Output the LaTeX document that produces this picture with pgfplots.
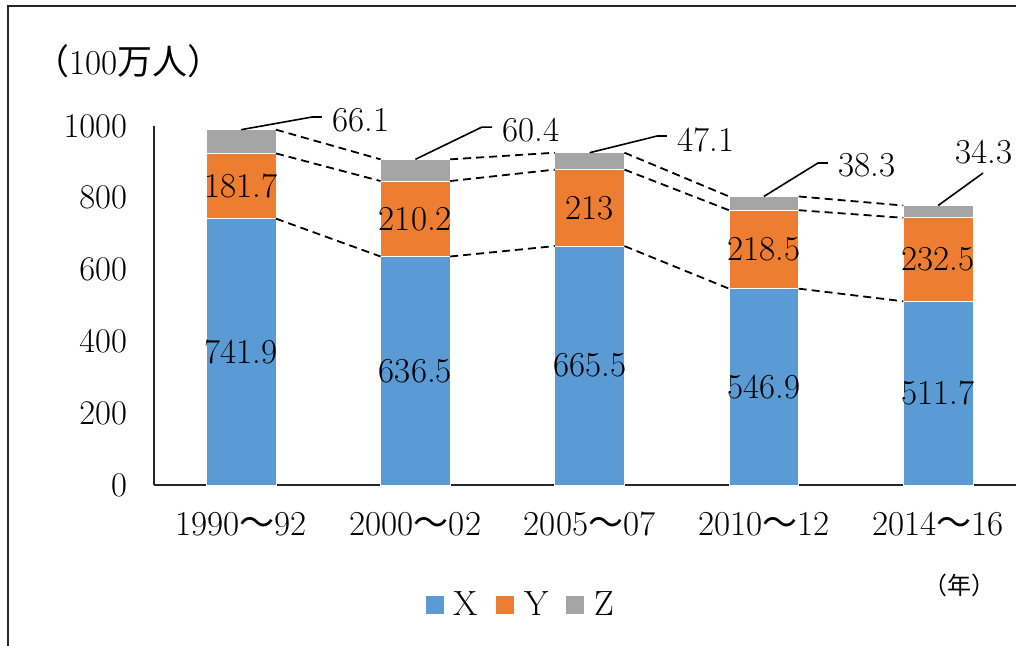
\documentclass[border=0pt]{standalone}
\usepackage{pgfplots}
\pgfplotsset{compat=1.18}
\usepackage{fontspec}
\newfontfamily\cjk{Noto Sans CJK JP}
\definecolor{cX}{HTML}{5B9BD5}
\definecolor{cY}{HTML}{ED7D31}
\definecolor{cZ}{HTML}{A5A5A5}
\begin{document}
\begin{tikzpicture}
\useasboundingbox (0,0) rectangle (508pt,323pt);
\draw[line width=1pt,black!85] (3.8pt,-5pt) -- (3.8pt,320pt) -- (515pt,320pt);
\node[anchor=west,font=\fontsize{17.5}{20}\selectfont,inner sep=0pt] at (17pt,292.5pt) {{\cjk （}100{\cjk 万人）}};
\node[font=\fontsize{12}{14}\selectfont,inner sep=0pt] at (479.5pt,30.5pt) {\cjk （年）};
\begin{axis}[
  at={(77pt,80.5pt)}, anchor=south west,
  scale only axis, width=431pt, height=179.5pt,
  xmin=-0.5, xmax=4.447, ymin=0, ymax=1000,
  ybar stacked, bar width=0.4,
  axis x line*=bottom, axis y line*=left,
  axis line style={line width=0.9pt, black!85, -},
  ytick={0,200,...,1000}, xtick={0,1,2,3,4},
  yticklabel style={/pgf/number format/1000 sep={}},
  xticklabels={1990{\cjk ～}92,2000{\cjk ～}02,2005{\cjk ～}07,2010{\cjk ～}12,2014{\cjk ～}16},
  major tick length=0pt,
  tick label style={font=\fontsize{17.5}{20}\selectfont},
  yticklabel style={xshift=-10pt},
  xticklabel style={yshift=-10pt},
  clip=false,
  legend columns=3,
  legend style={at={(0.427,-0.334)}, anchor=center, draw=none, fill=none,
    font=\fontsize{17.5}{20}\selectfont, inner sep=0pt,
    /tikz/every odd column/.append style={column sep=3pt},
    /tikz/every even column/.append style={column sep=7pt}},
  legend image code/.code={\fill[#1,draw=none] (0pt,-4.5pt) rectangle (9pt,4.5pt);},
]
\addplot[fill=cX, draw=white, line width=0.4pt] coordinates {(0,741.9) (1,636.5) (2,665.5) (3,546.9) (4,511.7)};
\addplot[fill=cY, draw=white, line width=0.4pt] coordinates {(0,181.7) (1,210.2) (2,213) (3,218.5) (4,232.5)};
\addplot[fill=cZ, draw=white, line width=0.4pt] coordinates {(0,66.1) (1,60.4) (2,47.1) (3,38.3) (4,34.3)};
\legend{X,Y,Z}
\end{axis}
\begin{axis}[
  at={(77pt,80.5pt)}, anchor=south west,
  scale only axis, width=431pt, height=179.5pt,
  xmin=-0.5, xmax=4.447, ymin=0, ymax=1000,
  hide axis, clip=false, unbounded coords=jump,
]
\addplot[black, line width=0.9pt, dash pattern=on 4pt off 2.5pt, mark=none] coordinates {(0.2,741.9) (0.8,636.5) (1,nan) (1.2,636.5) (1.8,665.5) (2,nan) (2.2,665.5) (2.8,546.9) (3,nan) (3.2,546.9) (3.8,511.7)};
\addplot[black, line width=0.9pt, dash pattern=on 4pt off 2.5pt, mark=none] coordinates {(0.2,923.6) (0.8,846.7) (1,nan) (1.2,846.7) (1.8,878.5) (2,nan) (2.2,878.5) (2.8,765.4) (3,nan) (3.2,765.4) (3.8,744.2)};
\addplot[black, line width=0.9pt, dash pattern=on 4pt off 2.5pt, mark=none] coordinates {(0.2,989.7) (0.8,907.1) (1,nan) (1.2,907.1) (1.8,925.6) (2,nan) (2.2,925.6) (2.8,803.7) (3,nan) (3.2,803.7) (3.8,778.5)};
% bar value labels
\begin{scope}[every node/.style={font=\fontsize{17.5}{20}\selectfont, inner sep=0pt}]
\node at (axis cs:0,370.95) {741.9};
\node at (axis cs:1,318.25) {636.5};
\node at (axis cs:2,332.75) {665.5};
\node at (axis cs:3,273.45) {546.9};
\node at (axis cs:4,255.85) {511.7};
\node at (axis cs:0,832.75) {181.7};
\node at (axis cs:1,741.6) {210.2};
\node at (axis cs:2,772) {213};
\node at (axis cs:3,656.15) {218.5};
\node at (axis cs:4,627.95) {232.5};
\draw[line width=0.8pt] (axis cs:0,989.7) -- (axis cs:0.407,1025) -- (axis cs:0.464,1025);
\node[anchor=west] at (axis cs:0.521,1017) {66.1};
\draw[line width=0.8pt] (axis cs:1,907.1) -- (axis cs:1.382,997) -- (axis cs:1.44,997);
\node[anchor=west] at (axis cs:1.497,989) {60.4};
\draw[line width=0.8pt] (axis cs:2,925.6) -- (axis cs:2.387,972) -- (axis cs:2.444,972);
\node[anchor=west] at (axis cs:2.501,961) {47.1};
\draw[line width=0.8pt] (axis cs:3,803.7) -- (axis cs:3.311,897) -- (axis cs:3.368,897);
\node[anchor=west] at (axis cs:3.425,891) {38.3};
\draw[line width=0.8pt] (axis cs:4,778.5) -- (axis cs:4.258,869);
\node[anchor=west] at (axis cs:4.097,928) {34.3};
\end{scope}
\end{axis}
\end{tikzpicture}
\end{document}
